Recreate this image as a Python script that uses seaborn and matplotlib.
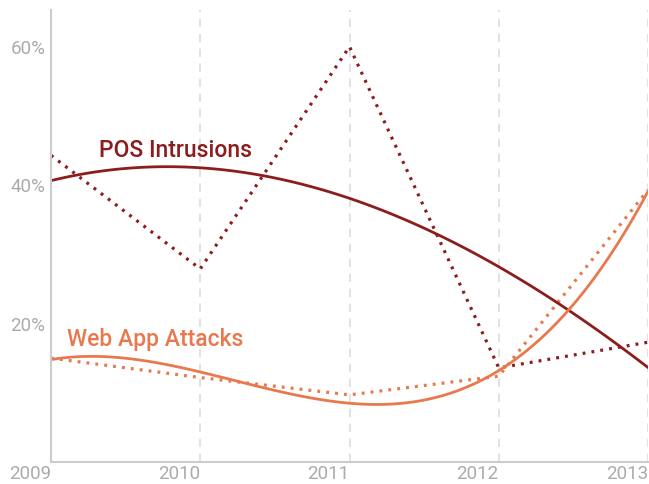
import numpy as np
import pandas as pd
import matplotlib
matplotlib.use("Agg")
import matplotlib.pyplot as plt
import seaborn as sns

years = [2009, 2010, 2011, 2012, 2013]
pos_intrusions = [44.3, 27.9, 60.0, 13.6, 17.3]
web_app_attacks = [15.0, 12.2, 9.7, 12.4, 39.3]
y_ticks = [20, 40, 60]
y_tick_labels = ["20%", "40%", "60%"]

pos_color = "#8c1d1d"
web_color = "#e8794f"
text_gray = "#ababab"

sns.set_style("white")
plt.rcParams['font.family'] = ['Roboto', 'DejaVu Sans']

df = pd.DataFrame({"year": years, "pos": pos_intrusions, "web": web_app_attacks})

fig = plt.figure(figsize=(6.49, 4.84), dpi=100)
ax = fig.add_axes([51 / 649, 22 / 484, 597 / 649, 452 / 484])

# raw yearly values, dotted
dots = (0, (0.9, 1.9))
sns.lineplot(data=df, x="year", y="pos", ax=ax, color=pos_color, lw=2.3, linestyle=dots)
sns.lineplot(data=df, x="year", y="web", ax=ax, color=web_color, lw=2.3, linestyle=dots)

# smooth trend (cubic fit), solid
sns.regplot(data=df, x="year", y="pos", ax=ax, order=3, ci=None, scatter=False,
            line_kws={"color": pos_color, "lw": 2.0})
sns.regplot(data=df, x="year", y="web", ax=ax, order=3, ci=None, scatter=False,
            line_kws={"color": web_color, "lw": 2.0})

ax.set_xlim(2009, 2013)
ax.set_ylim(0, 65.3)
ax.set_xticks(years)
ax.set_xticklabels([str(y) for y in years], ha="right")
ax.set_yticks(y_ticks)
ax.set_yticklabels(y_tick_labels)
ax.tick_params(axis="both", length=0, labelsize=13.5, colors=text_gray)
ax.tick_params(axis="x", pad=2)
ax.tick_params(axis="y", pad=4)
ax.set_xlabel("")
ax.set_ylabel("")

for x in years[1:]:
    ax.axvline(x, color="#dddddd", lw=1.2, ls=(0, (5, 4)), zorder=0)

for side in ["top", "right"]:
    ax.spines[side].set_visible(False)
for side in ["left", "bottom"]:
    ax.spines[side].set_color("#cccccc")
    ax.spines[side].set_linewidth(1.5)

ax.text(2009.32, 44.1, "POS Intrusions", color=pos_color, fontsize=16.5,
        fontweight="medium", va="baseline")
ax.text(2009.11, 16.8, "Web App Attacks", color=web_color, fontsize=16.5,
        fontweight="medium", va="baseline")

fig.savefig("out.png", dpi=100)
